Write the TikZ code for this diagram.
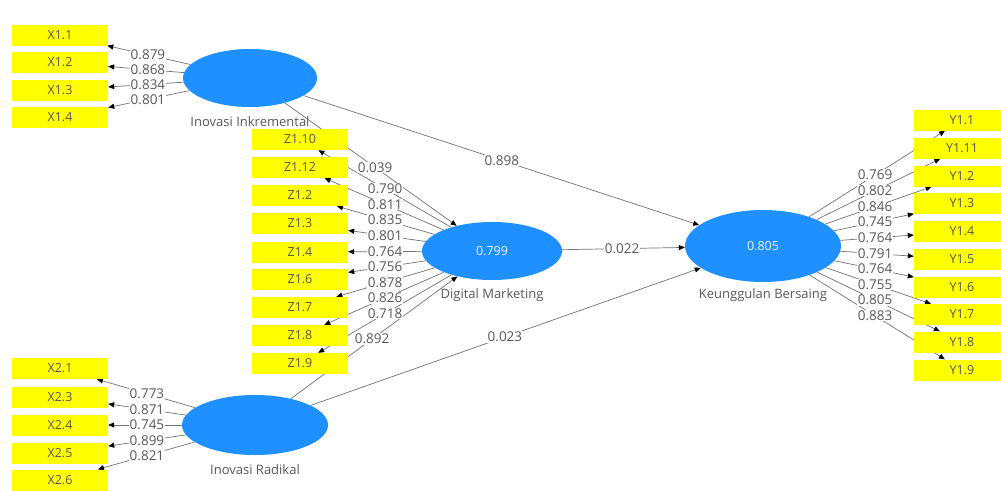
\documentclass[tikz,border=0pt]{standalone}
\usepackage{fontspec}
\setmainfont{Open Sans}
\usetikzlibrary{arrows.meta,calc,shapes.geometric}
\pgfdeclarelayer{bg}
\pgfsetlayers{bg,main}
\definecolor{lvblue}{HTML}{1E90FF}
\definecolor{indyellow}{HTML}{FFFF00}
\definecolor{txtgray}{HTML}{585858}
\definecolor{linegray}{HTML}{737373}
\tikzset{
  indbox/.style={rectangle, fill=indyellow, minimum width=96pt, minimum height=21pt, inner sep=0pt, text=txtgray, font=\fontsize{12.5}{14}\selectfont},
  lvell/.style={ellipse, fill=lvblue, inner sep=0pt, text=white!92!lvblue, font=\fontsize{12.5}{14}\selectfont},
  lvname/.style={text=txtgray, inner sep=0pt, font=\fontsize{13}{14}\selectfont},
  lbl/.style={fill=white, text=txtgray, inner sep=0.6pt, font=\fontsize{13.5}{14}\selectfont},
  conn/.style={draw=linegray, line width=0.7pt, -{Triangle[length=6pt,width=5pt,color=black]}}
}
\begin{document}
\begin{tikzpicture}[x=1pt,y=-1pt]
\useasboundingbox (0,0) rectangle (1001,490);
\clip (0,0) rectangle (1001,490);
\begin{pgfonlayer}{bg}
\fill[white] (0,0) rectangle (1001,490);
\end{pgfonlayer}

% latent variables
\node[lvell, minimum width=134pt, minimum height=58pt] (ii) at (250,78) {};
\node[lvell, minimum width=140pt, minimum height=58pt] (dm) at (492,251) {0.799};
\node[lvell, minimum width=156pt, minimum height=72pt] (kb) at (763,246) {0.805};
\node[lvell, minimum width=146pt, minimum height=60pt] (ir) at (255,425) {};

\node[lvname] (iin) at (250,122) {Inovasi Inkremental};
\node[lvname] (dmn) at (492,295) {Digital Marketing};
\node[lvname] (kbn) at (763,295) {Keunggulan Bersaing};
\node[lvname] (irn) at (255,470) {Inovasi Radikal};

% X1 indicators
\foreach \i/\y/\v in {1/35/0.879, 2/62.5/0.868, 3/90/0.834, 4/117.5/0.801} {
  \node[indbox] (xa\i) at (60,\y) {X1.\i};
  \begin{pgfonlayer}{bg}\draw[conn] (ii) -- (xa\i);\end{pgfonlayer}
  \node[lbl] at ($(ii)!0.537!(xa\i)$) {\v};
}

% X2 indicators
\foreach \i/\y/\v in {1/368.5/0.773, 3/397/0.871, 4/425/0.745, 5/453/0.899, 6/480/0.821} {
  \node[indbox] (xb\i) at (60,\y) {X2.\i};
  \begin{pgfonlayer}{bg}\draw[conn] (ir) -- (xb\i);\end{pgfonlayer}
  \node[lbl] at ($(ir)!0.554!(xb\i)$) {\v};
}

% Z1 indicators
\foreach \n/\t/\y/\v in {a/Z1.10/139.5/0.790, b/Z1.12/167.5/0.811, c/Z1.2/195.5/0.835, d/Z1.3/223.5/0.801, e/Z1.4/252/0.764, f/Z1.6/279.5/0.756, g/Z1.7/307.5/0.878, h/Z1.8/335.5/0.826, i/Z1.9/363.5/0.718} {
  \node[indbox] (z\n) at (300,\y) {\t};
  \begin{pgfonlayer}{bg}\draw[conn] (dm) -- (z\n);\end{pgfonlayer}
  \node[lbl] at ($(dm)!0.557!(z\n)$) {\v};
}

% Y1 indicators
\foreach \n/\t/\y/\v in {a/Y1.1/120/0.769, b/Y1.11/148/0.802, c/Y1.2/176/0.846, d/Y1.3/203.5/0.745, e/Y1.4/231.5/0.764, f/Y1.5/259.5/0.791, g/Y1.6/287/0.764, h/Y1.7/314.5/0.755, i/Y1.8/342/0.805, j/Y1.9/370/0.883} {
  \node[indbox] (y\n) at (962,\y) {\t};
  \begin{pgfonlayer}{bg}\draw[conn] (kb) -- (y\n);\end{pgfonlayer}
  \node[lbl] at ($(kb)!0.563!(y\n)$) {\v};
}

% structural paths
\begin{pgfonlayer}{bg}
\draw[conn] (ii) -- (dm);
\draw[conn] (ir) -- (dm);
\draw[conn] (ii) -- (kb);
\draw[conn] (dm) -- (kb);
\draw[conn] (ir) -- (kb);
\end{pgfonlayer}
\node[lbl] at ($(ii)!0.517!(dm)$) {0.039};
\node[lbl] at ($(ir)!0.494!(dm)$) {0.892};
\node[lbl] at ($(ii)!0.491!(kb)$) {0.898};
\node[lbl] at ($(dm)!0.48!(kb)$) {0.022};
\node[lbl] at ($(ir)!0.492!(kb)$) {0.023};
\end{tikzpicture}
\end{document}
